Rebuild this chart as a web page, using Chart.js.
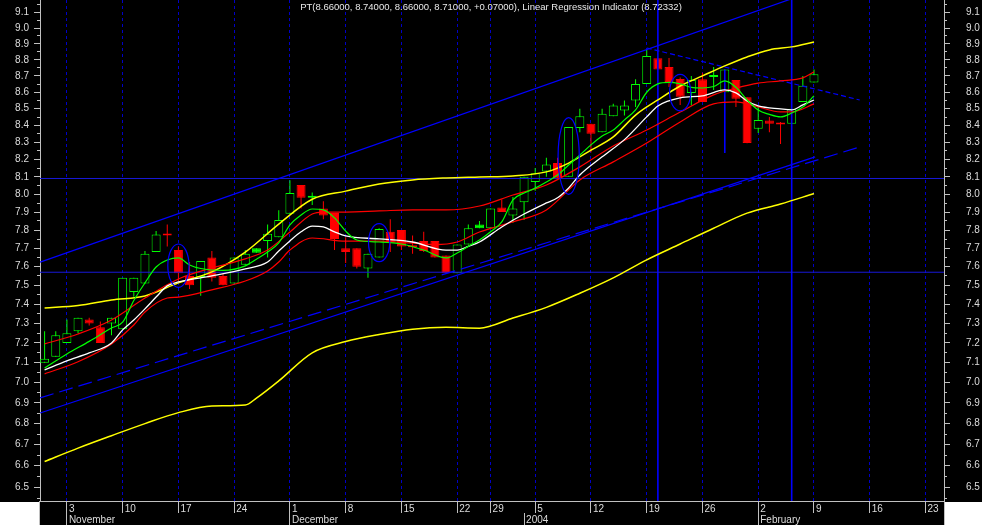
<!DOCTYPE html>
<html>
<head>
<meta charset="utf-8">
<title>PT - Linear Regression Indicator</title>
<script src="https://cdn.jsdelivr.net/npm/chart.js@4.4.1/dist/chart.umd.min.js"></script>
<style>
  html, body { margin: 0; padding: 0; background: #ffffff; }
  #wrap { width: 982px; height: 525px; }
</style>
</head>
<body>
<div id="wrap"><canvas id="chart" width="982" height="525"></canvas></div>
<script>
// ===== Data (trading day index 0 = Oct 30 2003) =====
const opens = [
  7.10, 7.13, 7.20, 7.26, 7.32, 7.28, 7.30, 7.27, 7.465, 7.51,
  7.68, 7.77, 7.69, 7.55, 7.545, 7.65, 7.55, 7.51, 7.61, 7.70,
  7.74, 7.76, 7.89, 8.053, 7.99, 7.92, 7.895, 7.70, 7.70, 7.59,
  7.65, 7.79, 7.80, 7.705, 7.74, 7.74, 7.66, 7.565, 7.72, 7.83,
  7.81, 7.925, 7.88, 7.955, 8.07, 8.13, 8.18, 8.10, 8.385, 8.41,
  8.36, 8.455, 8.49, 8.55, 8.65, 8.81, 8.756, 8.681, 8.596, 8.68,
  8.694, 8.60, 8.675, 8.57, 8.38, 8.43, 8.405, 8.41, 8.54, 8.66
];
const highs = [
  7.26, 7.26, 7.32, 7.33, 7.33, 7.31, 7.33, 7.54, 7.54, 7.685,
  7.795, 7.83, 7.71, 7.625, 7.63, 7.685, 7.56, 7.65, 7.69, 7.70,
  7.83, 7.91, 8.08, 8.053, 8.01, 7.96, 7.895, 7.76, 7.70, 7.67,
  7.81, 7.86, 7.80, 7.77, 7.79, 7.74, 7.66, 7.72, 7.83, 7.85,
  7.92, 7.97, 7.985, 8.10, 8.15, 8.21, 8.21, 8.39, 8.50, 8.41,
  8.50, 8.53, 8.55, 8.68, 8.862, 8.81, 8.812, 8.69, 8.70, 8.72,
  8.756, 8.74, 8.675, 8.57, 8.517, 8.45, 8.42, 8.50, 8.70, 8.74
];
const lows = [
  7.10, 7.13, 7.20, 7.25, 7.29, 7.20, 7.24, 7.27, 7.44, 7.51,
  7.68, 7.71, 7.52, 7.48, 7.445, 7.52, 7.50, 7.51, 7.61, 7.675,
  7.65, 7.76, 7.89, 7.92, 7.94, 7.86, 7.69, 7.62, 7.59, 7.54,
  7.65, 7.68, 7.69, 7.67, 7.68, 7.65, 7.565, 7.565, 7.72, 7.81,
  7.81, 7.90, 7.84, 7.855, 8.02, 8.10, 8.09, 8.10, 8.36, 8.24,
  8.36, 8.455, 8.46, 8.51, 8.65, 8.74, 8.632, 8.523, 8.52, 8.54,
  8.614, 8.60, 8.51, 8.295, 8.355, 8.36, 8.29, 8.41, 8.54, 8.66
];
const closes = [
  7.12, 7.24, 7.25, 7.33, 7.30, 7.20, 7.33, 7.54, 7.54, 7.67,
  7.775, 7.77, 7.565, 7.50, 7.63, 7.54, 7.50, 7.65, 7.67, 7.675,
  7.78, 7.856, 8.007, 7.98, 7.98, 7.88, 7.75, 7.68, 7.60, 7.67,
  7.805, 7.73, 7.71, 7.705, 7.685, 7.65, 7.565, 7.72, 7.81, 7.81,
  7.92, 7.90, 7.92, 8.10, 8.12, 8.17, 8.09, 8.39, 8.455, 8.35,
  8.47, 8.52, 8.52, 8.65, 8.824, 8.74, 8.662, 8.572, 8.675, 8.54,
  8.694, 8.74, 8.56, 8.296, 8.433, 8.41, 8.405, 8.50, 8.64, 8.71
];

// week starts on the date axis, and month starts
const weekTicks = [2, 7, 12, 17, 22, 27, 32, 37, 40, 44, 49, 54, 59, 64, 69, 74, 79];
const weekLabels = ['3', '10', '17', '24', '1', '8', '15', '22', '29', '5', '12', '19', '26', '2', '9', '16', '23'];
const monthTicks = [2, 22, 43, 64];
const monthLabels = ['November', 'December', '2004', 'February'];

const priceTicks = [6.5, 6.6, 6.7, 6.8, 6.9, 7.0, 7.1, 7.2, 7.3, 7.4, 7.5, 7.6, 7.7,
  7.8, 7.9, 8.0, 8.1, 8.2, 8.3, 8.4, 8.5, 8.6, 8.7, 8.8, 8.9, 9.0, 9.1];
const minorTicks = [6.45, 6.55, 6.65, 6.75, 6.85, 6.95, 7.05, 7.15, 7.25, 7.35, 7.45, 7.55, 7.65,
  7.75, 7.85, 7.95, 8.05, 8.15, 8.25, 8.35, 8.45, 8.55, 8.65, 8.75, 8.85, 8.95, 9.05, 9.15];

// indicator lines: [day index, price]
const greenLine = [[0,7.073],[2,7.144],[4,7.208],[6,7.277],[7,7.307],[8,7.42],[9,7.513],[10,7.598],
  [11,7.636],[12,7.647],[13,7.609],[14,7.59],[16,7.58],[18,7.604],[19,7.64],[20,7.679],[21,7.729],
  [22,7.828],[23,7.884],[24,7.917],[25,7.912],[26,7.867],[27,7.794],[28,7.745],[30,7.734],[32,7.723],
  [34,7.69],[36,7.647],[37,7.674],[38,7.71],[39,7.745],[40,7.79],[41,7.845],[42,7.968],[43,8.007],
  [44,8.035],[45,8.07],[46,8.11],[47,8.168],[48,8.226],[49,8.285],[50,8.337],[51,8.373],[52,8.433],
  [53,8.493],[54,8.60],[55,8.651],[56,8.66],[57,8.651],[58,8.63],[59,8.626],[60,8.635],[61,8.669],
  [62,8.63],[63,8.553],[64,8.492],[65,8.466],[66,8.451],[67,8.474],[68,8.51],[69,8.578]];
const whiteLine = [[0,7.064],[2,7.109],[4,7.149],[6,7.20],[7,7.267],[8,7.318],[9,7.376],[10,7.438],
  [11,7.497],[12,7.518],[15,7.55],[18,7.588],[20,7.625],[21,7.685],[22,7.74],[23,7.79],[24,7.822],
  [25,7.817],[26,7.79],[27,7.767],[30,7.751],[33,7.734],[36,7.69],[37,7.69],[38,7.71],[39,7.734],
  [41,7.817],[43,7.889],[45,7.951],[46,7.98],[47,8.036],[48,8.11],[50,8.215],[52,8.316],[54,8.451],
  [55,8.517],[57,8.566],[59,8.578],[61,8.614],[62,8.596],[63,8.547],[64,8.517],[66,8.499],[67,8.493],
  [68,8.523],[69,8.553]];
const redUpper = [[0,7.195],[3,7.246],[6,7.318],[9,7.433],[12,7.534],[15,7.593],[18,7.642],[20,7.69],
  [22,7.789],[24,7.889],[25,7.90],[27,7.90],[30,7.906],[33,7.912],[36,7.912],[39,7.934],[42,7.996],
  [45,8.053],[48,8.157],[51,8.279],[54,8.373],[57,8.48],[60,8.584],[62,8.625],[64,8.656],[66,8.669],
  [68,8.688],[69,8.725]];
const redLower = [[0,7.044],[3,7.105],[6,7.195],[8,7.292],[9,7.36],[11,7.433],[12,7.438],[15,7.476],
  [18,7.523],[20,7.577],[21,7.625],[22,7.69],[24,7.756],[27,7.739],[30,7.739],[33,7.728],[35,7.72],
  [37,7.734],[39,7.789],[42,7.845],[45,7.912],[48,8.082],[51,8.186],[54,8.296],[57,8.421],[60,8.529],
  [62,8.541],[64,8.511],[66,8.481],[67,8.481],[69,8.529]];
const bandUpper = [[0,7.381],[3,7.394],[6,7.423],[9,7.444],[12,7.513],[15,7.572],[18,7.679],[21,7.833],
  [24,7.972],[27,8.018],[30,8.059],[33,8.082],[36,8.093],[39,8.099],[42,8.105],[45,8.128],[47,8.179],
  [49,8.254],[51,8.332],[53,8.462],[55,8.553],[57,8.638],[59,8.70],[61,8.762],[63,8.818],[65,8.862],
  [67,8.881],[69,8.912]];
const bandLower = [[0,6.62],[3,6.683],[6,6.742],[9,6.80],[12,6.853],[15,6.885],[18,6.89],[19,6.924],
  [21,7.009],[24,7.15],[27,7.207],[30,7.243],[33,7.27],[36,7.28],[39,7.276],[42,7.328],[45,7.384],
  [48,7.458],[51,7.54],[54,7.637],[57,7.723],[60,7.81],[63,7.894],[66,7.945],[69,8.004]];

// drawn trend lines and markers
const upperChannel = [[-0.4, 7.624], [76, 9.421]];
const lowerChannel = [[-0.4, 6.851], [69.1, 8.215]];
const lowerChannelDash = [[-0.4, 6.925], [73.1, 8.273]];
const peakTrend = [[54, 8.874], [73.1, 8.553]];
const levelLines = [8.09, 7.57];
const markerDays = [55, 67];
const spikeDay = 61;
const spikeRange = [8.74, 8.238];
const ovalDays = [12, 30, 47, 57];
const ovalTops = [7.723, 7.835, 8.447, 8.71];
const ovalBottoms = [7.489, 7.627, 8.0, 8.487];

const titleText = 'PT(8.66000, 8.74000, 8.66000, 8.71000, +0.07000), Linear Regression Indicator (8.72332)';

// ===== Axis ranges =====
const xMin = -0.4126, xMax = 80.66;
const yMin = 6.437, yMax = 9.181;

const GREEN = '#00ff00', RED = '#ff0000', BLUE = '#0000ff';
const AXIS = '#c0c0c0', LABEL = '#dcdcdc';

Chart.defaults.font.family = '"Liberation Sans", Arial, sans-serif';
Chart.defaults.font.size = 10;

// up/down colouring: green when close >= previous close, filled when close < open
const candleColor = closes.map((c, i) => (i === 0 || c >= closes[i - 1]) ? GREEN : RED);
const candleFilled = closes.map((c, i) => c < opens[i]);

const lineSet = (pts, color, width, extra) => Object.assign({
  type: 'line',
  data: pts.map(p => ({ x: p[0], y: p[1] })),
  borderColor: color,
  borderWidth: width,
  pointRadius: 0,
  fill: false,
  tension: 0,
  order: 5
}, extra || {});

const smooth = { cubicInterpolationMode: 'monotone' };

const datasets = [
  // moving averages / bands (drawn above candles)
  lineSet(greenLine, GREEN, 1.2, Object.assign({ order: 1 }, smooth)),
  lineSet(whiteLine, '#ffffff', 1.3, Object.assign({ order: 2 }, smooth)),
  lineSet(redUpper, RED, 1.2, Object.assign({ order: 3 }, smooth)),
  lineSet(redLower, RED, 1.2, Object.assign({ order: 3 }, smooth)),
  lineSet(bandUpper, '#ffff00', 1.5, Object.assign({ order: 4 }, smooth)),
  lineSet(bandLower, '#ffff00', 1.5, Object.assign({ order: 4 }, smooth)),
  // regression channel and trend lines
  lineSet(upperChannel, BLUE, 1.2),
  lineSet(lowerChannel, BLUE, 1.2),
  lineSet(lowerChannelDash, BLUE, 1.2, { borderDash: [14, 6] }),
  lineSet(peakTrend, BLUE, 1.2, { borderDash: [5, 3] }),
  ...levelLines.map(v => lineSet([[xMin, v], [xMax, v]], '#1818d8', 1)),
  ...markerDays.map(d => lineSet([[d, yMin], [d, yMax]], BLUE, 1.6)),
  lineSet([[spikeDay, spikeRange[0]], [spikeDay, spikeRange[1]]], BLUE, 1.6),
  // candle bodies
  {
    type: 'bar',
    data: opens.map((o, i) => ({ x: i, y: [Math.min(o, closes[i]), Math.max(o, closes[i])] })),
    backgroundColor: candleColor.map((c, i) => candleFilled[i] ? c : '#000000'),
    borderColor: candleColor,
    borderWidth: 1,
    borderSkipped: false,
    barThickness: 9,
    minBarLength: 2,
    inflateAmount: 0,
    grouped: false,
    order: 10
  },
  // wicks
  {
    type: 'bar',
    data: highs.map((h, i) => ({ x: i, y: [lows[i], h] })),
    backgroundColor: candleColor,
    borderWidth: 0,
    barThickness: 1,
    inflateAmount: 0,
    grouped: false,
    order: 11
  }
];

// ===== Plugins =====
const backdrop = {
  id: 'backdrop',
  beforeDraw(chart) {
    const { ctx, width, height, chartArea } = chart;
    ctx.save();
    ctx.fillStyle = '#000000';
    ctx.fillRect(0, 0, width, height);
    ctx.fillStyle = '#ffffff';
    ctx.fillRect(0, chartArea.bottom + 1, chartArea.left, height - chartArea.bottom);
    ctx.fillRect(chartArea.right, chartArea.bottom + 1, width - chartArea.right, height - chartArea.bottom);
    ctx.strokeStyle = AXIS;
    ctx.lineWidth = 1;
    ctx.beginPath();
    ctx.moveTo(Math.round(chartArea.left) - 0.5, chartArea.bottom);
    ctx.lineTo(Math.round(chartArea.left) - 0.5, height);
    ctx.moveTo(Math.round(chartArea.right) + 0.5, chartArea.bottom);
    ctx.lineTo(Math.round(chartArea.right) + 0.5, height);
    ctx.stroke();
    ctx.restore();
  }
};

const ovals = {
  id: 'ovals',
  afterDatasetsDraw(chart) {
    const { ctx, scales: { x, y } } = chart;
    ctx.save();
    ctx.strokeStyle = BLUE;
    ctx.lineWidth = 1.2;
    ovalDays.forEach((d, i) => {
      const cx = x.getPixelForValue(d);
      const top = y.getPixelForValue(ovalTops[i]);
      const bottom = y.getPixelForValue(ovalBottoms[i]);
      const rx = Math.abs(x.getPixelForValue(d + 0.95) - cx);
      ctx.beginPath();
      ctx.ellipse(cx, (top + bottom) / 2, rx, (bottom - top) / 2, 0, 0, Math.PI * 2);
      ctx.stroke();
    });
    ctx.restore();
  }
};

const headline = {
  id: 'headline',
  afterDraw(chart) {
    const { ctx, width } = chart;
    ctx.save();
    ctx.font = '9.5px "Liberation Sans", Arial, sans-serif';
    ctx.fillStyle = '#e8e8e8';
    ctx.textAlign = 'center';
    ctx.textBaseline = 'middle';
    ctx.fillText(titleText, width / 2, 7);
    ctx.restore();
  }
};

// ===== Scales =====
const setTicks = list => scale => { scale.ticks = list.map(v => ({ value: v })); };

// fixed box sizes, no extra label padding pushed into the layout
const fixBox = (w, h) => s => {
  if (w !== null) s.width = w;
  if (h !== null) s.height = h;
  s.paddingTop = 0; s.paddingBottom = 0; s.paddingLeft = 0; s.paddingRight = 0;
};

const priceAxis = (position, weight, width, major) => ({
  type: 'logarithmic',
  position: position,
  min: yMin,
  max: yMax,
  weight: weight,
  afterBuildTicks: setTicks(major ? priceTicks : minorTicks),
  afterFit: fixBox(width, null),
  ticks: {
    display: major,
    autoSkip: false,
    color: LABEL,
    padding: position === 'left' ? 5 : 16,
    crossAlign: 'near',
    callback: v => Number(v).toFixed(1)
  },
  grid: { drawOnChartArea: false, drawTicks: true, tickLength: major ? 6 : 3, tickColor: AXIS },
  border: { display: major, color: AXIS }
});

new Chart(document.getElementById('chart'), {
  type: 'line',
  data: { datasets: datasets },
  plugins: [backdrop, ovals, headline],
  options: {
    responsive: false,
    animation: false,
    events: [],
    layout: { padding: 0 },
    plugins: { legend: { display: false }, tooltip: { enabled: false }, title: { display: false } },
    scales: {
      x: {
        type: 'linear',
        position: 'bottom',
        min: xMin,
        max: xMax,
        offset: false,
        weight: 0,
        afterBuildTicks: setTicks(weekTicks),
        afterFit: fixBox(null, 12),
        ticks: {
          autoSkip: false, maxRotation: 0, align: 'start', padding: -10, labelOffset: 2,
          color: LABEL, callback: (v, i) => weekLabels[i]
        },
        grid: {
          offset: false, color: '#0000c8', lineWidth: 1, drawOnChartArea: true, drawTicks: true,
          tickLength: 12, tickColor: AXIS, tickBorderDash: []
        },
        border: { display: true, color: AXIS, dash: [3, 3] }
      },
      x2: {
        type: 'linear',
        position: 'bottom',
        min: xMin,
        max: xMax,
        offset: false,
        weight: 1,
        afterBuildTicks: setTicks(monthTicks),
        afterFit: fixBox(null, 12),
        ticks: {
          autoSkip: false, maxRotation: 0, align: 'start', padding: -11, labelOffset: 2,
          color: LABEL, callback: (v, i) => monthLabels[i]
        },
        grid: { offset: false, drawOnChartArea: false, drawTicks: true, tickLength: 12, tickColor: AXIS },
        border: { display: false }
      },
      y: priceAxis('left', 1, 40, true),
      yMinor: priceAxis('left', 0, 0, false),
      yRight: priceAxis('right', 1, 38, true),
      yRightMinor: priceAxis('right', 0, 0, false)
    }
  }
});
</script>
</body>
</html>
